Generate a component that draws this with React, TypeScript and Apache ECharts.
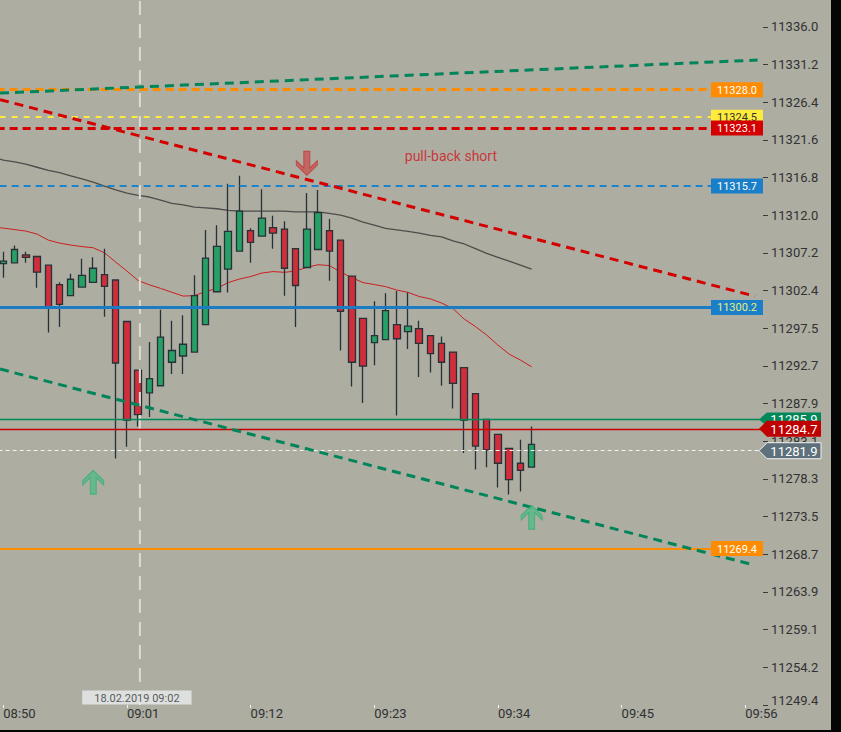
import React, { useEffect, useRef } from "react";
import * as echarts from "echarts";

// ---------- data ----------
const candleTimes = [
  "08:50", "08:51", "08:52", "08:53", "08:54", "08:55", "08:56", "08:57", "08:58", "08:59",
  "09:00", "09:01", "09:02", "09:03", "09:04", "09:05", "09:06", "09:07", "09:08", "09:09",
  "09:10", "09:11", "09:12", "09:13", "09:14", "09:15", "09:16", "09:17", "09:18", "09:19",
  "09:20", "09:21", "09:22", "09:23", "09:24", "09:25", "09:26", "09:27", "09:28", "09:29",
  "09:30", "09:31", "09:32", "09:33", "09:34", "09:35", "09:36", "09:37",
];
const opens = [
  11305.8, 11305.9, 11306.9, 11306.7, 11305.6, 11303.1, 11301.7, 11302.8, 11303.4, 11304.4,
  11303.7, 11298.4, 11292.2, 11289.3, 11290.2, 11293.2, 11294.0, 11294.5, 11298.0, 11302.2,
  11305.1, 11307.4, 11310.0, 11309.3, 11310.4, 11310.2, 11307.7, 11305.3, 11307.6, 11310.0,
  11308.8, 11304.2, 11298.8, 11295.7, 11296.1, 11298.0, 11297.1, 11297.5, 11296.6, 11295.6,
  11294.5, 11292.5, 11289.2, 11285.9, 11284.0, 11282.2, 11280.3, 11279.8,
];
const closes = [
  11306.1, 11307.6, 11306.6, 11304.7, 11300.3, 11300.6, 11303.8, 11304.3, 11305.2, 11302.9,
  11293.1, 11285.8, 11286.5, 11291.1, 11296.4, 11294.7, 11295.5, 11301.7, 11306.5, 11308.0,
  11309.9, 11312.5, 11308.5, 11311.6, 11309.7, 11305.2, 11303.0, 11310.2, 11312.3, 11307.4,
  11299.7, 11293.2, 11292.7, 11296.6, 11299.8, 11296.2, 11297.8, 11295.6, 11294.3, 11293.2,
  11290.5, 11285.8, 11282.5, 11282.0, 11280.3, 11278.2, 11279.4, 11282.7,
];
const lows = [
  11304.0, 11305.9, 11305.9, 11302.7, 11297.0, 11297.7, 11301.7, 11302.8, 11303.4, 11299.0,
  11280.9, 11282.4, 11285.0, 11286.2, 11290.2, 11291.7, 11291.7, 11294.5, 11298.0, 11302.2,
  11302.1, 11307.4, 11305.9, 11309.3, 11307.7, 11301.7, 11297.7, 11305.3, 11307.6, 11303.6,
  11294.7, 11290.1, 11288.0, 11292.8, 11296.1, 11286.4, 11294.9, 11291.3, 11291.9, 11290.2,
  11287.3, 11281.6, 11279.5, 11279.8, 11277.2, 11276.3, 11276.7, 11279.8,
];
const highs = [
  11307.3, 11308.1, 11307.3, 11306.7, 11305.6, 11303.4, 11304.5, 11306.4, 11306.6, 11307.7,
  11303.7, 11298.4, 11292.2, 11295.8, 11299.9, 11298.5, 11299.2, 11304.3, 11310.1, 11310.7,
  11316.0, 11317.0, 11310.3, 11315.3, 11311.9, 11311.2, 11307.7, 11314.8, 11315.2, 11311.5,
  11308.8, 11304.2, 11298.8, 11301.0, 11302.0, 11302.3, 11302.1, 11298.5, 11296.6, 11296.5,
  11294.5, 11292.5, 11289.2, 11285.9, 11284.0, 11282.2, 11283.3, 11285.0,
];

// moving averages: first value is at the left edge of the chart (EDGE_MIN), then one per candle
const EDGE_MIN = -0.29;
const slowMa = [
  11319.15, 11319.0, 11318.8, 11318.5, 11318.1, 11317.7, 11317.4, 11317.0, 11316.6, 11316.2,
  11315.7, 11315.2, 11314.8, 11314.5, 11314.3, 11313.9, 11313.5, 11313.3, 11313.0, 11312.9,
  11312.8, 11312.6, 11312.5, 11312.5, 11312.5, 11312.5, 11312.5, 11312.4, 11312.4, 11312.4,
  11312.2, 11312.0, 11311.6, 11311.1, 11310.7, 11310.3, 11310.1, 11309.9, 11309.7, 11309.4,
  11309.2, 11308.7, 11308.3, 11307.7, 11307.1, 11306.6, 11306.1, 11305.6, 11305.1,
];
const fastMa = [
  11310.37, 11310.33, 11310.14, 11309.95, 11309.57, 11308.8, 11308.42, 11308.16, 11307.97, 11307.82,
  11307.18, 11305.99, 11304.84, 11303.63, 11303.08, 11302.63, 11302.13, 11301.65, 11301.71, 11302.23,
  11302.63, 11303.37, 11303.82, 11304.14, 11304.59, 11304.78, 11304.68, 11304.84, 11305.32, 11305.65,
  11305.55, 11304.72, 11304.01, 11303.37, 11303.12, 11302.86, 11302.42, 11302.12, 11301.59, 11301.29,
  11300.76, 11300.05, 11298.71, 11297.76, 11296.67, 11295.39, 11294.24, 11293.48, 11292.62,
];

// trend lines: [minute, price] end points
const greenUpperTrend = [[EDGE_MIN, 11327.57], [67.1, 11331.79]];
const redTrend = [[EDGE_MIN, 11326.74], [66.87, 11301.63]];
const greenLowerTrend = [[EDGE_MIN, 11292.33], [66.69, 11267.33]];

// horizontal price levels
const levelPrices = [11328.0, 11324.5, 11323.1, 11315.7, 11300.2, 11269.4];
const markerPrices = [11285.9, 11284.7, 11281.9];

// signal arrows [minute, price]
const buyArrows = [[8, 11277.87], [47, 11273.4]];
const sellArrows = [[27, 11318.6]];
const noteText = "pull-back short";
const notePoint = [[35.67, 11319.53]];
const crosshairMinute = 12.15;
const crosshairLabel = "18.02.2019 09:02";

// axes
const FIRST_TIME = "08:50";
const X_MIN = -11;
const X_STEP = 11;
const X_MAX = 67.58;
const Y_MIN = 11249.43;
const Y_STEP = Y_MIN / 2338;
const Y_MAX = Y_MIN + 19 * Y_STEP;

// ---------- styles ----------
const BG = "#adada2";
const TEXT = "#303233";
const levelStyles = [
  { color: "#ff8c00", width: 3, type: [8, 5], bg: "#ff8c00", fg: "#ffffff" },
  { color: "#ffe93a", width: 2, type: [6, 6], bg: "#ffeb3b", fg: "#333333" },
  { color: "#d40000", width: 3, type: [8, 5], bg: "#d40000", fg: "#ffffff" },
  { color: "#1a84cc", width: 2, type: [7, 5], bg: "#1a7fc8", fg: "#ffffff" },
  { color: "#1b7cc4", width: 3, type: "solid", bg: "#1a7fc8", fg: "#e6ee7c" },
  { color: "#ff8c00", width: 2, type: "solid", bg: "#ff8c00", fg: "#ffffff" },
];
const markerStyles = [
  { color: "#008a5a", width: 1.4, type: "solid", bg: "#00875a", fg: "#ffffff", h: 14, stroke: null },
  { color: "#c80000", width: 1.4, type: "solid", bg: "#c00000", fg: "#ffffff", h: 16, stroke: null },
  { color: "#f4f4f4", width: 1, type: [4, 3], bg: "#5d707c", fg: "#ffffff", h: 16, stroke: "#f2f2f2" },
];
const ARROW_PATH =
  "path://M10.5 0 L21 10.5 L21 15 L13.5 7.5 L13.5 24.5 L7.5 24.5 L7.5 7.5 L0 15 L0 10.5 Z";

const toMin = (t: string) => {
  const [h, m] = t.split(":").map(Number);
  return h * 60 + m;
};
const base = toMin(FIRST_TIME);
const candleX = candleTimes.map((t) => toMin(t) - base);
const maX = [EDGE_MIN, ...candleX];

function buildOption(): any {
  const candleData = candleX.map((x, i) => [x, opens[i], closes[i], lows[i], highs[i]]);
  const fmtTime = (v: number) => {
    const t = base + Math.round(v);
    const h = Math.floor(t / 60);
    const m = t % 60;
    return `${String(h).padStart(2, "0")}:${String(m).padStart(2, "0")}`;
  };
  const font = "Roboto";
  return {
    animation: false,
    backgroundColor: BG,
    textStyle: { fontFamily: font },
    grid: {
      left: -120.36,
      right: 68,
      top: -10.9,
      bottom: 25,
      containLabel: false,
      outerBoundsMode: "none",
    },
    xAxis: {
      type: "value",
      min: X_MIN,
      max: X_MAX,
      interval: X_STEP,
      axisLine: { show: false, onZero: false },
      axisTick: { show: true, length: 3, lineStyle: { color: "#f4f4f4", width: 1 } },
      splitLine: { show: false },
      axisLabel: {
        show: true,
        showMinLabel: false,
        showMaxLabel: false,
        align: "left",
        margin: 2,
        color: TEXT,
        fontSize: 13,
        fontFamily: font,
        formatter: (v: number) => fmtTime(v),
      },
    },
    yAxis: {
      type: "value",
      position: "right",
      min: Y_MIN,
      max: Y_MAX,
      interval: Y_STEP,
      axisLine: { show: false, onZero: false },
      axisTick: { show: true, length: 5, lineStyle: { color: "#3a3a3a", width: 1 } },
      splitLine: { show: false },
      axisLabel: {
        show: true,
        showMaxLabel: false,
        margin: 8,
        color: TEXT,
        fontSize: 13,
        fontFamily: font,
        formatter: (v: number) =>
          Math.abs(v - Y_MIN) < 1e-6 ? `{lo|${v.toFixed(1)}}` : v.toFixed(1),
        rich: {
          lo: { padding: [0, 0, 10, 0], color: TEXT, fontSize: 13, fontFamily: font },
        },
      },
    },
    series: [
      {
        name: "slowMa",
        type: "line",
        data: maX.map((x, i) => [x, slowMa[i]]),
        showSymbol: false,
        silent: true,
        z: 2,
        lineStyle: { color: "rgba(60,60,60,0.85)", width: 1.3 },
        emphasis: { disabled: true },
      },
      {
        name: "fastMa",
        type: "line",
        data: maX.map((x, i) => [x, fastMa[i]]),
        showSymbol: false,
        silent: true,
        z: 2,
        lineStyle: { color: "#cc1f1f", width: 1 },
        emphasis: { disabled: true },
      },
      {
        name: "candles",
        type: "candlestick",
        data: candleData,
        encode: { x: 0, y: [1, 2, 3, 4] },
        barWidth: 7,
        silent: true,
        z: 3,
        itemStyle: {
          color: "#27a065",
          color0: "#d22d3b",
          borderColor: "#263238",
          borderColor0: "#263238",
          borderWidth: 1.3,
        },
        markLine: {
          silent: true,
          symbol: ["none", "none"],
          label: { show: false },
          emphasis: { disabled: true },
          data: [
            ...levelPrices.map((p, i) => ({
              yAxis: p,
              lineStyle: { color: levelStyles[i].color, width: levelStyles[i].width, type: levelStyles[i].type },
            })),
            ...markerPrices.map((p, i) => ({
              yAxis: p,
              lineStyle: { color: markerStyles[i].color, width: markerStyles[i].width, type: markerStyles[i].type },
            })),
          ],
        },
      },
      {
        name: "crosshair",
        type: "line",
        data: [[crosshairMinute, Y_MIN], [crosshairMinute, Y_MAX]],
        showSymbol: false,
        silent: true,
        z: 4,
        lineStyle: { color: "#dcdcd4", width: 2, type: [14, 9] },
        emphasis: { disabled: true },
      },
      {
        name: "greenUpper",
        type: "line",
        data: greenUpperTrend,
        showSymbol: false,
        silent: true,
        z: 5,
        lineStyle: { color: "#00855a", width: 3, type: [9, 6] },
        emphasis: { disabled: true },
      },
      {
        name: "redTrend",
        type: "line",
        data: redTrend,
        showSymbol: false,
        silent: true,
        z: 5,
        lineStyle: { color: "#d40000", width: 3, type: [9, 6] },
        emphasis: { disabled: true },
      },
      {
        name: "greenLower",
        type: "line",
        data: greenLowerTrend,
        showSymbol: false,
        silent: true,
        z: 5,
        lineStyle: { color: "#00855a", width: 3, type: [9, 6] },
        emphasis: { disabled: true },
      },
      {
        name: "buy",
        type: "scatter",
        data: buyArrows,
        symbol: ARROW_PATH,
        symbolSize: [21, 24],
        silent: true,
        z: 6,
        itemStyle: { color: "rgba(62,190,128,0.8)", borderColor: "#3aae76", borderWidth: 1 },
      },
      {
        name: "sell",
        type: "scatter",
        data: sellArrows,
        symbol: ARROW_PATH,
        symbolSize: [21, 24],
        symbolRotate: 180,
        silent: true,
        z: 6,
        itemStyle: { color: "rgba(205,62,62,0.8)", borderColor: "#c23535", borderWidth: 1 },
      },
      {
        name: "note",
        type: "scatter",
        data: notePoint,
        symbolSize: 1,
        silent: true,
        z: 6,
        itemStyle: { color: "rgba(0,0,0,0)" },
        label: {
          show: true,
          position: "right",
          distance: 0,
          formatter: noteText,
          color: "#d0161b",
          fontSize: 14,
          fontFamily: font,
        },
      },
      {
        name: "crosshairLabel",
        type: "scatter",
        data: [[crosshairMinute, Y_MIN]],
        symbolSize: 1,
        silent: true,
        z: 7,
        itemStyle: { color: "rgba(0,0,0,0)" },
        label: {
          show: true,
          position: "top",
          distance: 0,
          offset: [-3, 0],
          formatter: crosshairLabel,
          color: "#333",
          fontSize: 11,
          lineHeight: 11,
          fontFamily: font,
          backgroundColor: "#e9ecef",
          padding: [2, 12, 1, 12],
        },
      },
      {
        name: "levelTags",
        type: "custom",
        data: levelPrices.map((p) => [X_MAX, p]),
        silent: true,
        z: 10,
        renderItem: (params: any, api: any) => {
          const i = params.dataIndex;
          const price = api.value(1);
          const pt = api.coord([api.value(0), price]);
          const st = levelStyles[i];
          const w = 52;
          const h = 15;
          return {
            type: "group",
            children: [
              {
                type: "rect",
                shape: { x: pt[0] - w, y: pt[1] - h / 2, width: w, height: h },
                style: { fill: st.bg },
              },
              {
                type: "text",
                style: {
                  text: price.toFixed(1),
                  x: pt[0] - w / 2,
                  y: pt[1] + 0.5,
                  align: "center",
                  verticalAlign: "middle",
                  fill: st.fg,
                  fontSize: 11,
                  fontFamily: font,
                },
              },
            ],
          };
        },
      },
      {
        name: "markerTags",
        type: "custom",
        data: markerPrices.map((p) => [X_MAX, p]),
        silent: true,
        z: 11,
        renderItem: (params: any, api: any) => {
          const i = params.dataIndex;
          const price = api.value(1);
          const pt = api.coord([api.value(0), price]);
          const st = markerStyles[i];
          const x0 = pt[0] - 4;
          const y = pt[1];
          const h = st.h;
          const w = 62;
          return {
            type: "group",
            children: [
              {
                type: "polygon",
                shape: {
                  points: [
                    [x0, y],
                    [x0 + 8, y - h / 2],
                    [x0 + w, y - h / 2],
                    [x0 + w, y + h / 2],
                    [x0 + 8, y + h / 2],
                  ],
                },
                style: st.stroke
                  ? { fill: st.bg, stroke: st.stroke, lineWidth: 1 }
                  : { fill: st.bg },
              },
              {
                type: "text",
                style: {
                  text: price.toFixed(1),
                  x: x0 + 8 + (w - 8) / 2,
                  y: y + 0.5,
                  align: "center",
                  verticalAlign: "middle",
                  fill: st.fg,
                  fontSize: 13,
                  fontFamily: font,
                },
              },
            ],
          };
        },
      },
    ],
  };
}

export default function App() {
  const ref = useRef<HTMLDivElement>(null);
  useEffect(() => {
    document.body.style.margin = "0";
    if (!ref.current) return;
    const chart = echarts.init(ref.current, null, { renderer: "svg" });
    chart.setOption(buildOption());
    return () => chart.dispose();
  }, []);
  return (
    <div style={{ width: 841, height: 732, background: "#050505", overflow: "hidden" }}>
      <div ref={ref} style={{ width: 831, height: 730 }} />
    </div>
  );
}
